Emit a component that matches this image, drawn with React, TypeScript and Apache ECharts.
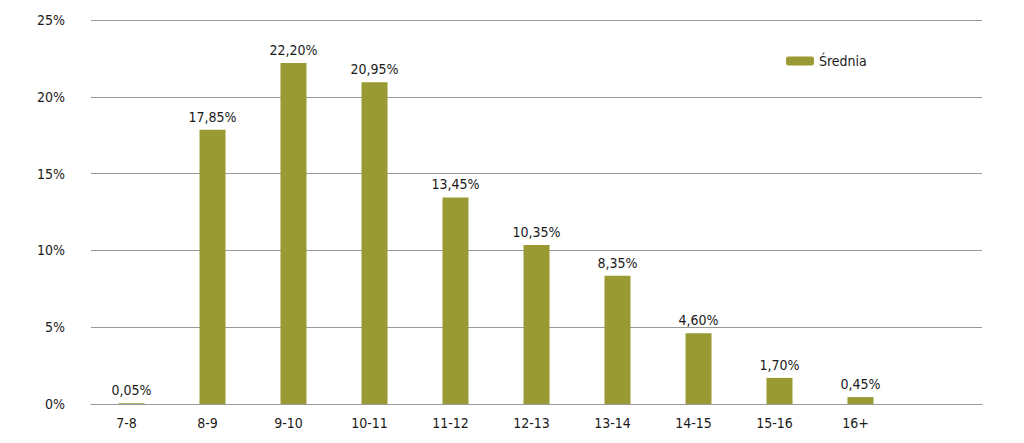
import React, { useEffect, useRef } from "react";
import * as echarts from "echarts";

const categories = ["7-8", "8-9", "9-10", "10-11", "11-12", "12-13", "13-14", "14-15", "15-16", "16+", ""];
const values: (number | null)[] = [0.05, 17.85, 22.2, 20.95, 13.45, 10.35, 8.35, 4.6, 1.7, 0.45, null];
const seriesName = "Średnia";
const yTicks = [0, 5, 10, 15, 20, 25];

const FONT = "'DejaVu Sans Condensed', 'Liberation Sans Narrow', sans-serif";

export default function App() {
  const ref = useRef<HTMLDivElement>(null);
  useEffect(() => {
    document.body.style.margin = "0";
    const chart = echarts.init(ref.current!, undefined, { renderer: "svg" });
    chart.setOption({
      animation: false,
      textStyle: { fontFamily: FONT },
      grid: { left: 91, right: 42, top: 20, bottom: 39, containLabel: false },
      legend: {
        data: [seriesName],
        left: 781,
        top: 49,
        itemWidth: 28,
        itemHeight: 9,
        itemGap: 6,
        textStyle: { fontFamily: FONT, fontSize: 14, color: "#1a1a1a" },
      },
      xAxis: {
        type: "category",
        data: categories,
        axisLine: { show: true, lineStyle: { color: "#999", width: 1 } },
        axisTick: { show: false },
        axisLabel: { fontFamily: FONT, fontSize: 14, color: "#1a1a1a", margin: 12, padding: [0, 10, 0, 0] },
      },
      yAxis: {
        type: "value",
        min: 0,
        max: yTicks[yTicks.length - 1],
        interval: 5,
        axisLine: { show: false },
        axisTick: { show: false },
        splitLine: { show: true, lineStyle: { color: "#999", width: 1 } },
        axisLabel: {
          fontFamily: FONT,
          fontSize: 14,
          color: "#1a1a1a",
          margin: 26,
          formatter: (v: number) => `${v}%`,
        },
      },
      series: [
        {
          name: seriesName,
          type: "bar",
          data: values,
          barWidth: 26,
          itemStyle: { color: "#9a9a35" },
          label: {
            show: true,
            position: "top",
            distance: 6,
            fontFamily: FONT,
            fontSize: 14,
            color: "#1a1a1a",
            formatter: (p: any) => `${Number(p.value).toFixed(2).replace(".", ",")}%`,
          },
        },
      ],
    });
    return () => chart.dispose();
  }, []);
  return <div ref={ref} style={{ width: 1024, height: 443 }} />;
}
